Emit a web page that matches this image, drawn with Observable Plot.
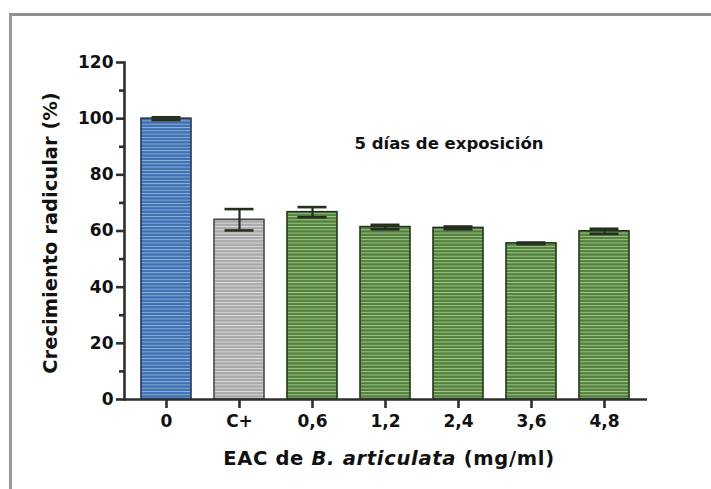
<!DOCTYPE html>
<html>
<head>
<meta charset="utf-8">
<script src="https://cdn.jsdelivr.net/npm/d3@7"></script>
<script src="https://cdn.jsdelivr.net/npm/@observablehq/plot@0.6"></script>
<style>
  body { margin: 0; background: #fff; }
  #wrap { position: relative; width: 711px; height: 489px; overflow: hidden; background: #fff; }
  #border { position: absolute; left: 9px; top: 13px; width: 800px; height: 600px;
            border-left: 3px solid #9a9a9a; border-top: 3px solid #8e8e8e; }
  #wrap svg { position: absolute; left: 0; top: 0; }
</style>
</head>
<body>
<div id="wrap"><div id="border"></div></div>
<script>
// Root growth (% of control) after 5 days of exposure
const categories = ["0", "C+", "0,6", "1,2", "2,4", "3,6", "4,8"];
const values     = [100, 64.0, 66.7, 61.4, 61.1, 55.6, 59.9];
const errors     = [0.5, 3.8, 1.8, 0.8, 0.5, 0.3, 0.9];
const groups     = ["control", "positivo", "extracto", "extracto", "extracto", "extracto", "extracto"];
const yTicks      = [0, 20, 40, 60, 80, 100, 120];
const yMinorTicks = [10, 30, 50, 70, 90, 110];
const annotation  = "5 días de exposición";

const data = categories.map((c, i) => ({cat: c, v: values[i], e: errors[i], grupo: groups[i]}));

// striped fills for each group: base colour, stripe colour, outline
const palette = {
  control:  {base: "#3f6fae", stripe: "#8ab2e2", edge: "#22395c"},
  positivo: {base: "#a8a8a8", stripe: "#dcdcdc", edge: "#4a4a4a"},
  extracto: {base: "#527f3c", stripe: "#a2c98c", edge: "#23381a"}
};

const barMarks = Object.keys(palette).map(g =>
  Plot.barY(data, {
    filter: d => d.grupo === g,
    x: "cat", y: "v",
    fill: `url(#rayas-${g})`,
    stroke: palette[g].edge, strokeWidth: 1.6
  })
);

const font = "'DejaVu Sans', Verdana, sans-serif";
const axisStyle = {stroke: "#2e2e2e", strokeWidth: 2.6};
const errStyle = {stroke: "#24301e", strokeWidth: 2.6, insetLeft: 10.5, insetRight: 10.5};

const svg = Plot.plot({
  width: 711,
  height: 489,
  marginLeft: 124,
  marginRight: 64,
  marginTop: 62,
  marginBottom: 90,
  style: {fontFamily: font, fontWeight: "bold", color: "#111", background: "transparent"},
  x: {domain: categories, paddingInner: 0.31, paddingOuter: 0.19},
  y: {domain: [0, 120]},
  marks: [
    ...barMarks,
    Plot.ruleX(data, {x: "cat", y1: d => d.v - d.e, y2: d => d.v + d.e, stroke: "#24301e", strokeWidth: 2.2}),
    Plot.tickY(data, {x: "cat", y: d => d.v + d.e, ...errStyle}),
    Plot.tickY(data, {x: "cat", y: d => d.v - d.e, ...errStyle}),
    Plot.axisY(yTicks, {tickSize: 8, tickPadding: 3, fontSize: 17, fontWeight: "bold", label: null, ...axisStyle}),
    Plot.axisY(yMinorTicks, {tickSize: 5, text: null, label: null, ...axisStyle}),
    Plot.axisX({tickSize: 9, tickPadding: 6, fontSize: 17, fontWeight: "bold", label: null, ...axisStyle}),
    Plot.ruleY([0], {...axisStyle}),
    Plot.frame({anchor: "left", ...axisStyle}),
    Plot.text([annotation], {text: d => d, frameAnchor: "top", dx: 63, dy: 74.5, fontSize: 16.5, fontWeight: "bold", fill: "#111"})
  ]
});

// stripe patterns referenced by the bars
const defs = d3.select(svg).insert("defs", ":first-child");
for (const [g, p] of Object.entries(palette)) {
  const pat = defs.append("pattern")
    .attr("id", `rayas-${g}`)
    .attr("patternUnits", "userSpaceOnUse")
    .attr("width", 8).attr("height", 3.3);
  pat.append("rect").attr("width", 8).attr("height", 3.3).attr("fill", p.base);
  pat.append("rect").attr("y", 1.6).attr("width", 8).attr("height", 1).attr("fill", p.stripe);
}

// axis titles
const s = d3.select(svg);
s.append("text")
  .attr("transform", "translate(57,233) rotate(-90)")
  .attr("text-anchor", "middle")
  .attr("font-family", font)
  .attr("font-size", 19.5).attr("font-weight", "bold").attr("fill", "#111")
  .text("Crecimiento radicular (%)");

const xt = s.append("text")
  .attr("x", 389).attr("y", 465)
  .attr("text-anchor", "middle")
  .attr("font-family", font)
  .attr("letter-spacing", 0.7)
  .attr("font-size", 19.5).attr("font-weight", "bold").attr("fill", "#111");
xt.append("tspan").text("EAC de ");
xt.append("tspan").attr("font-style", "italic").text("B. articulata");
xt.append("tspan").text(" (mg/ml)");

document.getElementById("wrap").appendChild(svg);
</script>
</body>
</html>
